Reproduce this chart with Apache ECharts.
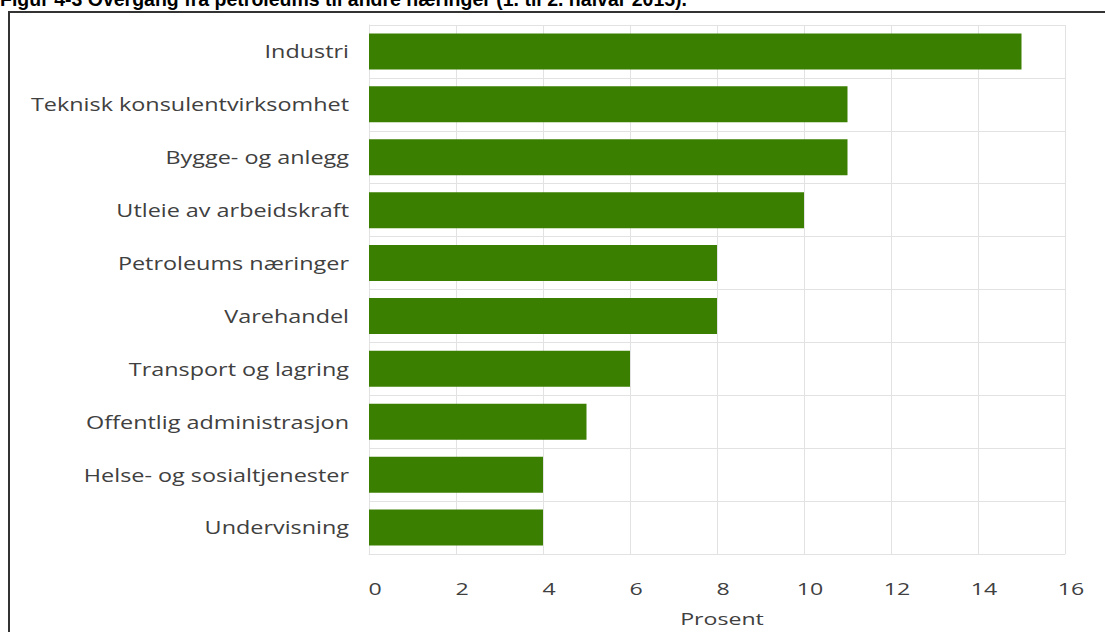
<!DOCTYPE html>
<html>
<head>
<meta charset="utf-8">
<script src="https://cdn.jsdelivr.net/npm/echarts@6/dist/echarts.min.js"></script>
<style>
  html, body { margin: 0; padding: 0; background: #fff; }
  #chart { width: 1105px; height: 632px; }
</style>
</head>
<body>
<div id="chart"></div>
<script>
// Andel som gikk fra petroleumsnæringene til andre næringer, prosent
const categories = [
  'Industri',
  'Teknisk konsulentvirksomhet',
  'Bygge- og anlegg',
  'Utleie av arbeidskraft',
  'Petroleums næringer',
  'Varehandel',
  'Transport og lagring',
  'Offentlig administrasjon',
  'Helse- og sosialtjenester',
  'Undervisning'
];
const values = [15, 11, 11, 10, 8, 8, 6, 5, 4, 4];
const xTicks = { min: 0, max: 16, interval: 2 };
const axisTitle = 'Prosent';
const figureTitle = 'Figur 4-3 Overgang fra petroleums til andre næringer (1. til 2. halvår 2015).';

const chart = echarts.init(document.getElementById('chart'), null, { renderer: 'svg' });
const gridColor = '#e2e2e2';
const labelFont = '"Open Sans", "DejaVu Sans", sans-serif';
const textColor = '#404040';

chart.setOption({
  animation: false,
  backgroundColor: '#ffffff',
  graphic: [
    {
      type: 'text',
      x: 0,
      y: -11,
      z: 10,
      style: {
        text: figureTitle,
        font: 'bold 19.5px "Liberation Sans Narrow", "Liberation Sans", sans-serif',
        fill: '#000'
      }
    },
    {
      type: 'rect',
      shape: { x: 9, y: 12, width: 1200, height: 700 },
      style: { fill: 'none', stroke: '#333', lineWidth: 2 }
    }
  ],
  grid: { left: 369, right: 40, top: 25, bottom: 75 },
  xAxis: {
    type: 'value',
    min: xTicks.min,
    max: xTicks.max,
    interval: xTicks.interval,
    name: axisTitle,
    nameLocation: 'middle',
    nameGap: 56,
    nameTextStyle: { fontFamily: labelFont, fontSize: 17, color: textColor, padding: [0, 0, 0, 10] },
    axisLine: { show: true, lineStyle: { color: gridColor } },
    axisTick: { show: false },
    axisLabel: {
      margin: 26, padding: [0, 0, 0, 12],
      fontFamily: labelFont, fontSize: 17, color: textColor
    },
    splitLine: { show: true, lineStyle: { color: gridColor, width: 1 } }
  },
  yAxis: {
    type: 'category',
    data: categories,
    inverse: true,
    axisLine: { show: true, lineStyle: { color: gridColor } },
    axisTick: { show: false },
    axisLabel: { margin: 20, fontFamily: labelFont, fontSize: 18, color: textColor },
    splitLine: { show: true, lineStyle: { color: gridColor, width: 1 } }
  },
  series: [{
    type: 'bar',
    data: values,
    barCategoryGap: '32%',
    itemStyle: { color: '#3b7f00' }
  }]
});

// Chart lettering is set wide: stretch each axis label horizontally about its own anchor.
function widenLabels() {
  const stretch = { category: 1.3, other: 1.36 };
  document.querySelectorAll('#chart svg text').forEach(function (el) {
    if (el.dataset.widened) return;
    const txt = el.textContent;
    if (txt === figureTitle) return;
    const sx = categories.indexOf(txt) >= 0 ? stretch.category : stretch.other;
    const x = parseFloat(el.getAttribute('x')) || 0;
    const y = parseFloat(el.getAttribute('y')) || 0;
    const t = el.getAttribute('transform') || '';
    el.setAttribute('x', 0);
    el.setAttribute('y', 0);
    el.setAttribute('transform', t + ' translate(' + x + ' ' + y + ') scale(' + sx + ' 1)');
    el.dataset.widened = '1';
  });
}
chart.on('finished', widenLabels);
setTimeout(widenLabels, 50);
</script>
</body>
</html>
